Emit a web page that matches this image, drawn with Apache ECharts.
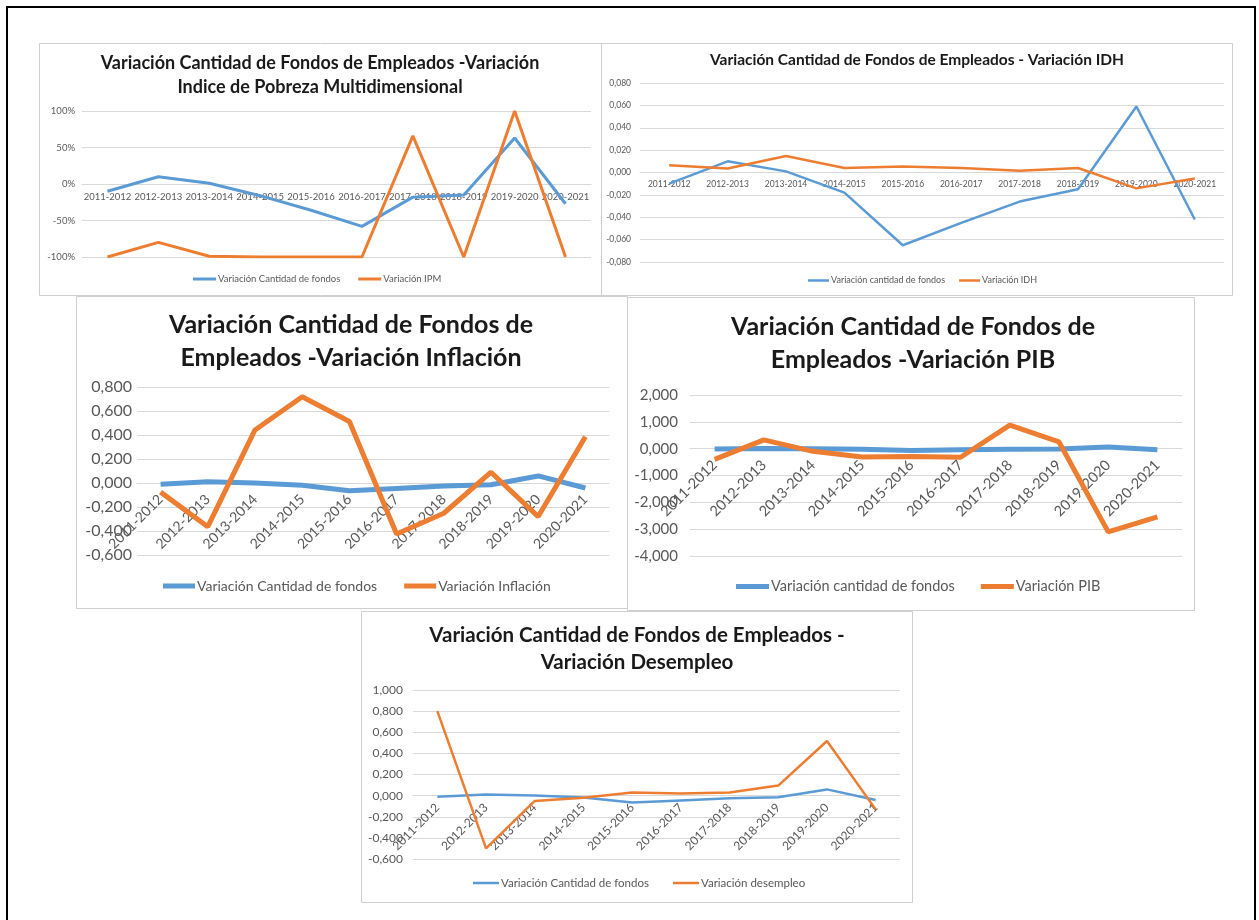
<!DOCTYPE html>
<html><head><meta charset="utf-8">
<script src="https://cdn.jsdelivr.net/npm/echarts@6/dist/echarts.min.js"></script>
<style>html,body{margin:0;padding:0;background:#fff}#c{width:1259px;height:920px}</style>
</head><body><div id="c"></div>
<script>
const categories = ['2011-2012','2012-2013','2013-2014','2014-2015','2015-2016','2016-2017','2017-2018','2018-2019','2019-2020','2020-2021'];
// Chart 1 (percent)
const fondosPct = [-10, 10, 1, -16, -36, -58, -18, -15, 63, -27];
const ipmPct = [-100, -80, -99, -100, -100, -100, 66, -100, 100, -100];
// Charts 2-5
const fondos = [-0.010, 0.010, 0.001, -0.018, -0.065, -0.045, -0.026, -0.015, 0.059, -0.042];
const idh = [0.0065, 0.0036, 0.0148, 0.0040, 0.0053, 0.0040, 0.0015, 0.0040, -0.0142, -0.0053];
const inflacion = [-0.076, -0.364, 0.442, 0.719, 0.512, -0.425, -0.252, 0.090, -0.280, 0.386];
const pib = [-0.40, 0.33, -0.10, -0.31, -0.29, -0.32, 0.88, 0.25, -3.10, -2.54];
const desempleo = [0.800, -0.500, -0.050, -0.020, 0.030, 0.020, 0.030, 0.095, 0.517, -0.130];

const titles = [
  'Variación Cantidad de Fondos de Empleados -Variación\nIndice de Pobreza Multidimensional',
  'Variación Cantidad de Fondos de Empleados - Variación IDH',
  'Variación Cantidad de Fondos de\nEmpleados -Variación Inflación',
  'Variación Cantidad de Fondos de\nEmpleados -Variación PIB',
  'Variación Cantidad de Fondos de Empleados -\nVariación Desempleo'
];
const legendNames = [
  ['Variación Cantidad de fondos', 'Variación IPM'],
  ['Variación cantidad de fondos', 'Variación IDH'],
  ['Variación Cantidad de fondos', 'Variación Inflación'],
  ['Variación cantidad de fondos', 'Variación PIB'],
  ['Variación Cantidad de fondos', 'Variación desempleo']
];
const blueData = [fondosPct, fondos, fondos, fondos, fondos];
const orangeData = [ipmPct, idh, inflacion, pib, desempleo];
const yRanges = [[-100, 100, 50], [-0.08, 0.08, 0.02], [-0.6, 0.8, 0.2], [-4, 2, 1], [-0.6, 1.0, 0.2]];

const BLUE = '#5B9BD5', ORANGE = '#ED7D31', FONT = 'Lato', TXT = '#595959', GRID = '#D9D9D9';

// layout per panel
const L = [
  {box:[39,43,562,252], tx:320, tt:51, ts:18, tlh:24, grid:[82,111,509,146], yfs:9.5, ymar:7, xfs:9.5, xrot:0, xmar:8, lw:3, lg:{left:193, top:274, fs:9.5, iw:23, gap:18}},
  {box:[601,43,631,252], tx:917, tt:51, ts:15.5, tlh:18, grid:[640,83,584,179], yfs:8.5, ymar:9, xfs:8.5, xrot:0, xmar:7, lw:2.5, lg:{left:808, top:276, fs:9, iw:21, gap:14}},
  {box:[76,296,551,312], tx:351, tt:308, ts:25, tlh:33, grid:[137,387,472,168], yfs:16, ymar:5, xfs:14, xrot:45, xmar:14, lw:5, lg:{left:163, top:579, fs:14, iw:32, gap:27}},
  {box:[627,297,567,313], tx:913, tt:310, ts:25, tlh:33, grid:[690,395,492,161], yfs:15, ymar:12, xfs:14.5, xrot:45, xmar:14, lw:5, lg:{left:736, top:579, fs:14.5, iw:33, gap:26}},
  {box:[361,611,551,291], tx:637, tt:622, ts:20.5, tlh:27, grid:[413,690,487,169], yfs:12, ymar:10, xfs:12, xrot:45, xmar:10, lw:2.5, lg:{left:473, top:877, fs:11.5, iw:26, gap:24}}
];

function yFmt(i) {
  return i === 0 ? (v => Math.round(v) + '%') : (v => v.toFixed(3).replace('.', ','));
}

const option = {
  backgroundColor: '#fff',
  animation: false,
  title: [], grid: [], xAxis: [], yAxis: [], legend: [], series: [],
  graphic: []
};

// outer frame
option.graphic.push({type:'rect', z:-10, shape:{x:7, y:7, width:1248, height:940}, style:{fill:'#fff', stroke:'#000', lineWidth:2}});

L.forEach((p, i) => {
  const [ymin, ymax, yint] = yRanges[i];
  // distance from grid bottom up to the zero line, so the category axis sits on zero
  const zeroOffset = p.grid[3] * (0 - ymin) / (ymax - ymin);
  option.graphic.push({type:'rect', z:-5 + i, shape:{x:p.box[0]+0.5, y:p.box[1]+0.5, width:p.box[2], height:p.box[3]}, style:{fill:'#fff', stroke:'#CFCFCF', lineWidth:1}});
  option.title.push({
    text: titles[i], left: p.tx, top: p.tt, textAlign: 'center', padding: 0,
    textStyle: {fontFamily: FONT, fontWeight: 'bold', fontSize: p.ts, lineHeight: p.tlh, color: '#1a1a1a'}
  });
  option.grid.push({left: p.grid[0], top: p.grid[1], width: p.grid[2], height: p.grid[3], containLabel: false, outerBoundsMode: 'none'});
  option.xAxis.push({
    type: 'category', gridIndex: i, data: categories, boundaryGap: true, position: 'bottom',
    offset: -zeroOffset,
    axisLine: {onZero: false, lineStyle: {color: GRID, width: 1}},
    axisTick: {show: false},
    axisLabel: {interval: 0, rotate: p.xrot, margin: p.xmar, fontFamily: FONT, fontSize: p.xfs, color: TXT, hideOverlap: false},
    splitLine: {show: false}
  });
  option.yAxis.push({
    type: 'value', gridIndex: i, min: ymin, max: ymax, interval: yint,
    axisLine: {show: false}, axisTick: {show: false},
    axisLabel: {formatter: yFmt(i), margin: p.ymar, fontFamily: FONT, fontSize: p.yfs, color: TXT},
    splitLine: {lineStyle: {color: GRID, width: 1}}
  });
  option.legend.push({
    left: p.lg.left, top: p.lg.top, padding: 0, itemGap: p.lg.gap,
    icon: 'rect', itemWidth: p.lg.iw, itemHeight: Math.max(2, p.lw),
    textStyle: {fontFamily: FONT, fontSize: p.lg.fs, color: TXT, padding: [0, 0, 0, -3]},
    data: legendNames[i], selectedMode: false
  });
  option.series.push({
    name: legendNames[i][0], type: 'line', xAxisIndex: i, yAxisIndex: i, data: blueData[i],
    symbol: 'none', color: BLUE, lineStyle: {color: BLUE, width: p.lw}, z: 3
  });
  option.series.push({
    name: legendNames[i][1], type: 'line', xAxisIndex: i, yAxisIndex: i, data: orangeData[i],
    symbol: 'none', color: ORANGE, lineStyle: {color: ORANGE, width: p.lw}, z: 4
  });
});

const chart = echarts.init(document.getElementById('c'), null, {renderer: 'canvas'});
chart.setOption(option);
</script>
</body></html>
